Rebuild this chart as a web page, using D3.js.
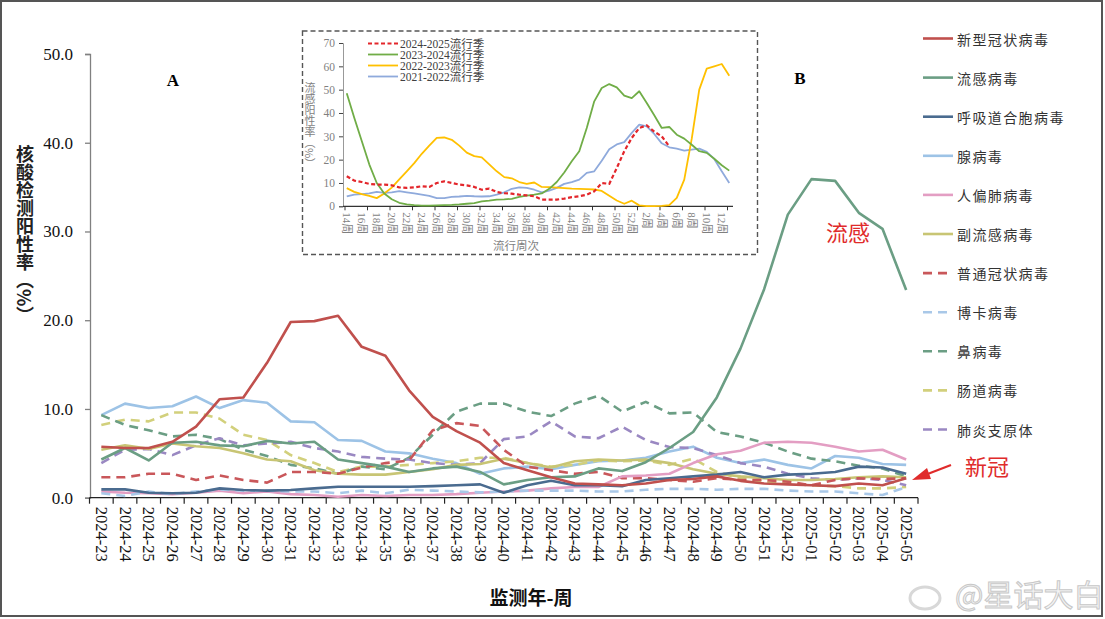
<!DOCTYPE html>
<html><head><meta charset="utf-8">
<script src="https://cdn.jsdelivr.net/npm/d3@7"></script>
<style>
html,body{margin:0;padding:0;background:#fff;}
svg{display:block;}
</style></head>
<body>
<svg id="chart" width="1105" height="619"></svg>
<script>
// ---------- main chart data ----------
const categories = ["2024-23","2024-24","2024-25","2024-26","2024-27","2024-28","2024-29","2024-30","2024-31","2024-32","2024-33","2024-34","2024-35","2024-36","2024-37","2024-38","2024-39","2024-40","2024-41","2024-42","2024-43","2024-44","2024-45","2024-46","2024-47","2024-48","2024-49","2024-50","2024-51","2024-52","2025-01","2025-02","2025-03","2025-04","2025-05"];
const yTicks = [0,10,20,30,40,50];

const covid      = [5.75,5.6,5.6,6.3,8.0,11.1,11.3,15.2,19.8,19.9,20.5,17.0,16.0,12.1,9.1,7.5,6.2,3.9,3.1,2.3,1.6,1.5,1.4,1.6,2.0,2.1,2.4,1.9,1.6,1.5,1.4,1.3,1.6,1.4,2.2];
const influenza  = [4.3,5.6,4.2,6.2,6.3,5.9,5.8,6.4,6.1,6.3,4.3,3.9,3.5,2.9,3.3,3.5,2.9,1.5,2.0,2.3,2.4,3.3,3.0,4.0,5.6,7.4,11.3,16.8,23.5,31.9,35.9,35.7,32.1,30.3,23.4];
const rsv        = [0.94,0.94,0.56,0.5,0.56,1.05,0.86,0.8,0.86,1.05,1.24,1.24,1.24,1.24,1.3,1.4,1.5,0.56,1.4,1.9,1.4,1.4,1.3,2.0,2.2,2.4,2.6,2.9,2.3,2.6,2.7,2.9,3.5,3.4,2.7];
const adeno      = [9.3,10.6,10.1,10.3,11.4,10.1,11.0,10.7,8.6,8.5,6.5,6.4,5.2,5.0,4.4,3.9,2.7,3.3,3.5,3.2,3.7,4.1,4.2,4.5,5.2,5.75,4.5,3.9,4.3,3.7,3.3,4.7,4.5,3.8,3.7];
const hmpv       = [0.7,0.56,0.5,0.4,0.56,0.8,0.5,0.7,0.4,0.3,0.1,0.3,0.2,0.3,0.3,0.4,0.56,0.7,0.8,1.05,1.2,1.2,2.4,2.5,2.7,3.9,4.9,5.3,6.2,6.3,6.2,5.75,5.2,5.4,4.3];
const parainf    = [5.4,5.9,5.5,6.1,5.8,5.6,5.0,4.3,4.1,3.1,2.7,2.6,2.6,2.9,3.2,3.7,3.8,4.4,3.9,3.4,4.1,4.3,4.2,4.3,3.9,3.2,2.7,2.4,2.2,2.0,2.0,2.1,2.3,2.4,2.3];
const hcov       = [2.3,2.3,2.7,2.7,2.0,2.5,2.0,1.7,2.9,2.9,2.7,3.4,3.9,4.2,7.6,8.4,8.1,5.4,3.5,3.1,2.7,2.9,2.2,2.2,2.0,1.8,2.2,2.0,2.0,1.8,1.4,2.0,2.2,2.1,2.2];
const boca       = [0.5,0.2,0.7,0.4,0.7,0.94,0.8,0.8,0.7,0.7,0.5,0.8,0.5,0.9,0.8,0.7,0.6,0.7,0.8,0.8,0.8,0.7,0.7,0.9,1.0,1.0,0.9,1.0,1.0,0.8,0.7,0.7,0.5,0.3,1.2];
const rhino      = [9.3,8.2,7.6,6.9,7.1,6.6,5.4,4.7,3.7,3.3,2.7,3.5,3.2,4.5,7.1,9.7,10.6,10.6,9.7,9.2,10.6,11.5,9.7,10.8,9.5,9.6,7.4,6.9,6.2,5.2,4.4,4.1,3.6,3.3,2.4];
const entero     = [8.2,8.8,8.6,9.6,9.6,8.9,7.1,6.5,4.8,3.9,2.9,3.5,3.5,3.7,3.9,4.1,4.5,4.5,3.9,3.5,3.7,4.2,4.1,4.2,3.7,4.4,2.9,2.2,1.8,1.6,1.4,1.3,1.05,1.05,1.2];
const mycoplasma = [3.9,5.4,5.5,4.8,5.9,6.7,5.9,6.1,6.3,5.6,5.2,4.6,4.4,4.3,3.9,3.7,3.9,6.6,6.9,8.6,6.9,6.7,8.0,6.5,5.7,5.6,4.8,3.9,3.5,2.7,2.2,2.0,2.2,2.0,1.4];

const seriesNames = ["新型冠状病毒","流感病毒","呼吸道合胞病毒","腺病毒","人偏肺病毒","副流感病毒","普通冠状病毒","博卡病毒","鼻病毒","肠道病毒","肺炎支原体"];
const seriesValues = [covid,influenza,rsv,adeno,hmpv,parainf,hcov,boca,rhino,entero,mycoplasma];
const seriesColors = ["#c0504d","#6b9e84","#4a6b8f","#9dc3e6","#e39ec3","#c8c574","#c9575a","#a9c8e8","#6b9e84","#d2d07c","#9a88c2"];
const seriesDashed = [false,false,false,false,false,false,true,true,true,true,true];

// ---------- inset data (flu positivity by season) ----------
const insetWeeks = [14,15,16,17,18,19,20,21,22,23,24,25,26,27,28,29,30,31,32,33,34,35,36,37,38,39,40,41,42,43,44,45,46,47,48,49,50,51,52,1,2,3,4,5,6,7,8,9,10,11,12,13];
const insetYTicks = [0,10,20,30,40,50,60,70];
const season2425 = [12.9,11.0,10.4,9.6,9.3,9.3,9.0,8.1,7.9,8.1,8.6,8.3,10.0,10.7,10.0,9.3,9.0,8.3,7.1,7.6,6.1,5.6,5.4,5.0,4.7,4.3,2.9,2.9,2.9,3.3,3.9,4.3,5.0,6.4,10.0,9.6,16.4,23.6,29.3,33.6,34.7,32.0,30.0,25.7];
const season2324 = [48.5,38,28,18,10,5.5,3,1.5,0.8,0.5,0.3,0.3,0.4,0.5,0.6,0.8,1.1,1.4,2.1,2.4,2.9,3.0,3.2,4.0,4.6,5.0,5.5,7.5,10.4,14.5,19.3,23.6,33.6,45,50.7,52.4,51,47.4,46.4,49.3,44.3,39,33.6,34,30.7,29,26.4,23.6,22.9,20.4,17.6,15.3];
const season2223 = [7.8,6.2,5.2,4.5,3.5,5.5,8.0,11.5,15,18.5,22.5,26,29.3,29.5,28.5,26,23,21.5,21,18,15,12.5,12,10.4,9.6,10.2,8.3,8.2,8.0,7.8,7.6,7.5,7.4,7.2,6.6,4.5,2.5,1.1,2.4,0.4,0.1,0.1,0.2,0.5,3.6,11.4,29,50,59,60,61,56];
const season2122 = [4.3,5.0,5.2,5.5,6.2,5.8,6.0,6.5,6.0,5.5,5.0,4.5,3.5,3.5,4.0,4.2,4.5,4.3,4.2,4.3,5.0,6.0,7.5,8.1,7.9,7.1,6.0,6.7,7.9,9.6,10.4,11.4,14.3,15,19.5,24.5,26.5,27.5,31.5,35,34.3,31,27,25.3,24.7,23.9,24.3,24.7,23.3,20.3,15,10];
const insetNames = ["2024-2025流行季","2023-2024流行季","2022-2023流行季","2021-2022流行季"];
const insetValues = [season2425,season2324,season2223,season2122];
const insetColors = ["#e3262b","#70ad47","#ffc000","#8faadc"];

// ---------- drawing ----------
const svg = d3.select("#chart");
const SERIF = "'Liberation Serif','Noto Sans CJK SC',serif";
const CJK = "'Noto Sans CJK SC',sans-serif";

svg.append("rect").attr("x",1).attr("y",1).attr("width",1101).attr("height",615)
  .attr("fill","#fff").attr("stroke","#555").attr("stroke-width",2);

const x = d3.scaleBand().domain(categories).range([89.5, 918]).padding(0);
const y = d3.scaleLinear().domain([0,50]).range([497.7, 54]);
const cx = c => x(c) + x.bandwidth()/2;

// y axis
const yAxis = svg.append("g").attr("transform","translate(90,0)")
  .call(d3.axisLeft(y).tickValues(yTicks).tickFormat(d3.format(".1f")).tickSize(5).tickPadding(12));
yAxis.select(".domain").attr("stroke","#808080").attr("stroke-width",1.3);
yAxis.selectAll(".tick line").attr("stroke","#808080").attr("stroke-width",1.3);
yAxis.selectAll("text").attr("font-family",SERIF).attr("font-size",17).attr("fill","#111");

// x axis
const xAxisG = svg.append("g");
xAxisG.append("line").attr("x1",x.range()[0]).attr("x2",x.range()[1])
  .attr("y1",y(0)).attr("y2",y(0)).attr("stroke","#222").attr("stroke-width",1.3);
const bounds = categories.map(c => x(c)).concat([x.range()[1]]);
xAxisG.selectAll("line.tk").data(bounds).join("line").attr("class","tk")
  .attr("x1",d=>d).attr("x2",d=>d).attr("y1",y(0)).attr("y2",y(0)+6)
  .attr("stroke","#222").attr("stroke-width",1.2);
xAxisG.selectAll("text").data(categories).join("text")
  .attr("transform",c=>`translate(${cx(c)},${y(0)+9}) rotate(90)`)
  .attr("dominant-baseline","central").attr("text-anchor","start")
  .attr("font-family",SERIF).attr("font-size",16.5).attr("fill","#111").text(c=>c);

// lines
const line = d3.line().x((d,i)=>cx(categories[i])).y(d=>y(d));
const order = [3,9,8,10,5,6,4,7,2,1,0];
order.forEach(k=>{
  svg.append("path").datum(seriesValues[k]).attr("d",line)
    .attr("fill","none").attr("stroke",seriesColors[k]).attr("stroke-width",2.6)
    .attr("stroke-linejoin","round")
    .attr("stroke-dasharray",seriesDashed[k]?"9,6":null);
});

// axis titles
svg.append("text").attr("x",531).attr("y",605).attr("text-anchor","middle")
  .attr("font-family",CJK).attr("font-weight",700).attr("font-size",19).attr("fill","#111").text("监测年-周");
svg.append("text").attr("x",25).attr("y",145)
  .attr("style","writing-mode:vertical-rl;").attr("font-family",CJK).attr("font-weight",700)
  .attr("font-size",18).attr("fill","#222").text("核酸检测阳性率（%）");

// A / B labels
svg.append("text").attr("x",173).attr("y",86).attr("text-anchor","middle").attr("font-family",SERIF)
  .attr("font-weight",700).attr("font-size",17).text("A");
svg.append("text").attr("x",800).attr("y",84).attr("text-anchor","middle").attr("font-family",SERIF)
  .attr("font-weight",700).attr("font-size",17).text("B");

// legend
const lg = svg.append("g");
seriesNames.forEach((n,k)=>{
  const ly = 38.5 + k*39.1;
  lg.append("line").attr("x1",923).attr("x2",953).attr("y1",ly).attr("y2",ly)
    .attr("stroke",seriesColors[k]).attr("stroke-width",2.6)
    .attr("stroke-dasharray",seriesDashed[k]?"9,6":null);
  lg.append("text").attr("x",957).attr("y",ly).attr("dominant-baseline","central")
    .attr("font-family",CJK).attr("font-size",14).attr("letter-spacing",1.4).attr("fill","#333").text(n);
});

// annotations
svg.append("text").attr("x",848).attr("y",241).attr("text-anchor","middle").attr("font-family",CJK)
  .attr("font-size",22).attr("fill","#e02b2b").text("流感");
svg.append("text").attr("x",987).attr("y",475).attr("text-anchor","middle").attr("font-family",CJK)
  .attr("font-size",22).attr("fill","#e02b2b").text("新冠");
svg.append("line").attr("x1",951).attr("y1",465).attr("x2",925).attr("y2",475)
  .attr("stroke","#e02b2b").attr("stroke-width",2.2);
svg.append("path").attr("d","M912,480 L927,468 L931,479 Z").attr("fill","#e02b2b");

// watermark
svg.append("ellipse").attr("cx",925).attr("cy",598).attr("rx",15).attr("ry",11)
  .attr("fill","none").attr("stroke","#d8d8d8").attr("stroke-width",3);
svg.append("text").attr("x",955).attr("y",606).attr("font-family",CJK).attr("font-size",30)
  .attr("fill","#f4f4f4").attr("stroke","#c8c8c8").attr("stroke-width",1).text("@星话大白");

// ---------- inset ----------
const ins = svg.append("g");
ins.append("rect").attr("x",302.5).attr("y",31).attr("width",455).attr("height",223.5)
  .attr("fill","#fff").attr("stroke","#555").attr("stroke-width",1.4).attr("stroke-dasharray","5,3");
const xi = d3.scaleBand().domain(d3.range(insetWeeks.length)).range([343,733]).padding(0);
const yi = d3.scaleLinear().domain([0,70]).range([206.3,43]);
const cxi = i => xi(i) + xi.bandwidth()/2;

const yiAxis = ins.append("g").attr("transform","translate(343,0)")
  .call(d3.axisLeft(yi).tickValues(insetYTicks).tickSize(4).tickPadding(4));
yiAxis.select(".domain").attr("stroke","#999");
yiAxis.selectAll(".tick line").attr("stroke","#444");
yiAxis.selectAll("text").attr("font-family",SERIF).attr("font-size",11.5).attr("fill","#7f7f7f");

ins.append("line").attr("x1",343).attr("x2",733).attr("y1",yi(0)).attr("y2",yi(0)).attr("stroke","#333").attr("stroke-width",1.2);
const tkIdx = d3.range(0, insetWeeks.length, 3);
ins.selectAll("line.itk").data(tkIdx).join("line").attr("class","itk")
  .attr("x1",i=>xi(i)+2).attr("x2",i=>xi(i)+2).attr("y1",yi(0)).attr("y2",yi(0)+4).attr("stroke","#333");
const lblIdx = d3.range(0, insetWeeks.length, 2);
ins.selectAll("text.ixl").data(lblIdx).join("text").attr("class","ixl")
  .attr("transform",i=>`translate(${cxi(i)},${yi(0)+6}) rotate(90)`)
  .attr("dominant-baseline","central").attr("font-family",SERIF).attr("font-size",11)
  .attr("fill","#7f7f7f").text(i=>insetWeeks[i]+"周");

ins.append("text").attr("x",516).attr("y",250).attr("text-anchor","middle").attr("font-family",CJK)
  .attr("font-size",11.5).attr("fill","#7f7f7f").text("流行周次");
ins.append("text").attr("x",310).attr("y",82).attr("style","writing-mode:vertical-rl;")
  .attr("font-family",CJK).attr("font-size",11).attr("fill","#7f7f7f").text("流感阳性率（%）");

const iline = d3.line().x((d,i)=>cxi(i)).y(d=>yi(d));
[3,2,1,0].forEach(k=>{
  ins.append("path").datum(insetValues[k]).attr("d",iline).attr("fill","none")
    .attr("stroke",insetColors[k]).attr("stroke-width",k===0?2.2:1.8).attr("stroke-linejoin","round")
    .attr("stroke-dasharray",k===0?"4,2.5":null);
});
insetNames.forEach((n,k)=>{
  const ly = 43.5 + k*11;
  ins.append("line").attr("x1",368).attr("x2",398).attr("y1",ly).attr("y2",ly)
    .attr("stroke",insetColors[k]).attr("stroke-width",k===0?2.2:1.8).attr("stroke-dasharray",k===0?"4,2.5":null);
  ins.append("text").attr("x",400).attr("y",ly).attr("dominant-baseline","central")
    .attr("font-family",SERIF).attr("font-size",11.5).attr("fill","#404040").text(n);
});
</script>
</body></html>
